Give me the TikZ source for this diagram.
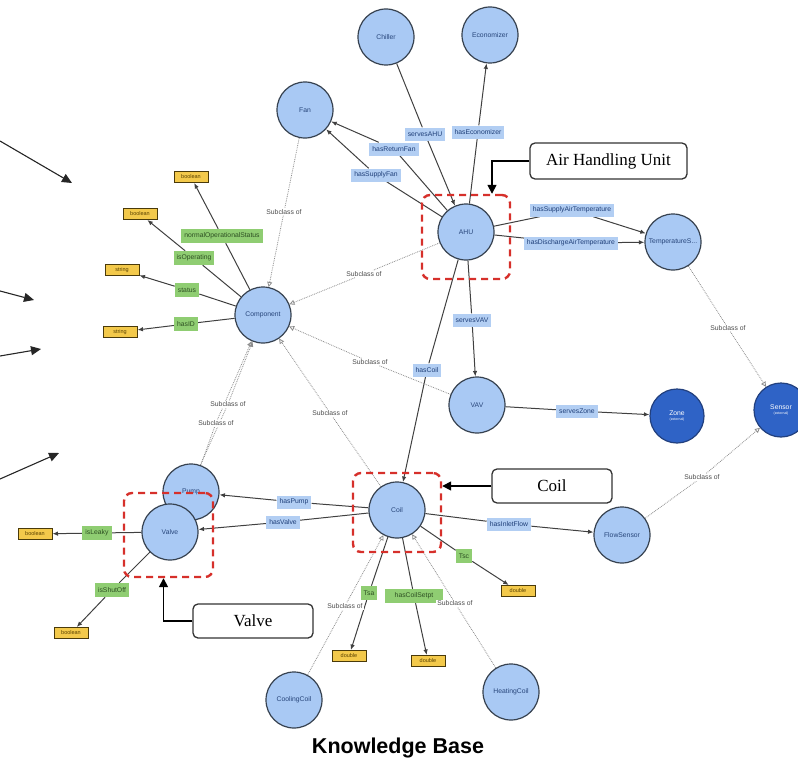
\documentclass[tikz,border=0pt]{standalone}
\usepackage{fontspec}
\setmainfont{Liberation Sans}
\newfontfamily\calloutfont{Liberation Serif}
\usetikzlibrary{arrows.meta,calc,backgrounds}

\definecolor{classfill}{HTML}{A9C9F4}
\definecolor{circborder}{HTML}{36414F}
\definecolor{classtext}{HTML}{27457A}
\definecolor{extfill}{HTML}{2F63C6}
\definecolor{extborder}{HTML}{22407E}
\definecolor{propblue}{HTML}{B2CEF3}
\definecolor{proptext}{HTML}{1E3E78}
\definecolor{propgreen}{HTML}{8FCD72}
\definecolor{greentext}{HTML}{2D4F22}
\definecolor{litfill}{HTML}{F3C94B}
\definecolor{litborder}{HTML}{4A3A0A}
\definecolor{littext}{HTML}{5A4200}
\definecolor{focusred}{HTML}{D6302B}

\begin{document}
\begin{tikzpicture}[x=1pt,y=-1pt,
  every node/.style={font=\fontsize{6.8}{7.8}\selectfont, inner sep=1.5pt},
  cls/.style={circle, draw=circborder, line width=1.2pt, fill=classfill,
    minimum size=56pt, text=classtext, inner sep=0pt},
  ext/.style={cls, fill=extfill, draw=extborder, text=white, align=center, minimum size=54pt},
  objprop/.style={fill=propblue, text=proptext, minimum height=13pt, inner xsep=3pt},
  dataprop/.style={fill=propgreen, text=greentext, minimum height=14pt, inner xsep=3pt},
  literal/.style={draw=litborder, line width=1pt, fill=litfill, text=littext,
    minimum width=34pt, minimum height=11pt, inner sep=0.5pt, font=\fontsize{5.5}{6}\selectfont},
  sublbl/.style={fill=white, text=black!70, inner sep=1pt},
  rel/.style={draw=black!75, line width=1pt, -{Latex[length=5.5pt,width=4.5pt]}},
  subcl/.style={draw=black!45, line width=0.8pt, densely dotted,
    -{Triangle[open,length=5pt,width=5pt]}},
  focus/.style={draw=focusred, line width=2.4pt, dash pattern=on 7pt off 5pt,
    rounded corners=8pt, inner sep=0pt},
  callout/.style={draw=black!80, line width=1.3pt, rounded corners=5pt, fill=white,
    font=\calloutfont\fontsize{17}{19}\selectfont, inner sep=0pt},
  pointer/.style={draw=black, line width=1.6pt, -{Triangle[length=9pt,width=9pt]}},
  feed/.style={draw=black!85, line width=1.1pt, -{Triangle[length=10pt,width=9pt]}},
]
\useasboundingbox (0,0) rectangle (798,776);

% ---- classes ----
\node[cls] (chiller) at (386,37) {Chiller};
\node[cls] (econ) at (490,35) {Economizer};
\node[cls] (fan) at (305,110) {Fan};
\node[cls] (ahu) at (466,232) {AHU};
\node[cls] (temp) at (673,242) {TemperatureS...};
\node[cls] (comp) at (263,315) {Component};
\node[cls] (vav) at (477,405) {VAV};
\node[ext] (zone) at (677,416) {Zone\\[-2pt]{\fontsize{3.5}{4}\selectfont (external)}};
\node[ext] (sensor) at (781,410) {Sensor\\[-2pt]{\fontsize{3.5}{4}\selectfont (external)}};
\node[cls] (coil) at (397,510) {Coil};
\node[cls] (flow) at (622,535) {FlowSensor};
\node[cls] (pump) at (191,492) {Pump};
\node[cls] (valve) at (170,532) {Valve};
\node[cls] (cool) at (294,700) {CoolingCoil};
\node[cls] (heat) at (511,692) {HeatingCoil};

% ---- object property labels ----
\node[objprop] (lServesAHU) at (425,134) {servesAHU};
\node[objprop] (lEcon) at (478,132) {hasEconomizer};
\node[objprop] (lRetFan) at (394,149) {hasReturnFan};
\node[objprop] (lSupFan) at (376,175) {hasSupplyFan};
\node[objprop] (lSAT) at (572,210) {hasSupplyAirTemperature};
\node[objprop] (lDAT) at (571,243) {hasDischargeAirTemperature};
\node[objprop] (lServesVAV) at (472,320) {servesVAV};
\node[objprop] (lHasCoil) at (427,370) {hasCoil};
\node[objprop] (lServesZone) at (577,411) {servesZone};
\node[objprop] (lHasPump) at (294,502) {hasPump};
\node[objprop] (lHasValve) at (283,522) {hasValve};
\node[objprop] (lInlet) at (509,524) {hasInletFlow};

% ---- data property labels ----
\node[dataprop] (lNOS) at (222,236) {normalOperationalStatus};
\node[dataprop] (lIsOp) at (194,258) {isOperating};
\node[dataprop] (lStatus) at (187,290) {status};
\node[dataprop] (lID) at (186,324) {hasID};
\node[dataprop] (lLeaky) at (97,533) {isLeaky};
\node[dataprop] (lShut) at (112,590) {isShutOff};
\node[dataprop] (lTsc) at (464,556) {Tsc};
\node[dataprop] (lTsa) at (369,593) {Tsa};
\node[dataprop, minimum width=58pt] (lSetpt) at (414,596) {hasCoilSetpt};

% ---- literals ----
\node[literal] (bNOS) at (191,177) {boolean};
\node[literal] (bIsOp) at (140,214) {boolean};
\node[literal] (sStatus) at (122,270) {string};
\node[literal] (sID) at (120,332) {string};
\node[literal] (bLeaky) at (35,534) {boolean};
\node[literal] (bShut) at (71,633) {boolean};
\node[literal] (dTsa) at (349,656) {double};
\node[literal] (dSetpt) at (428,661) {double};
\node[literal] (dTsc) at (518,591) {double};

% ---- subclass labels ----
\node[sublbl] (sFan) at (284,212) {Subclass of};
\node[sublbl] (sAHU) at (364,274) {Subclass of};
\node[sublbl] (sVAV) at (370,362) {Subclass of};
\node[sublbl] (sCoil) at (330,413) {Subclass of};
\node[sublbl] (sValve) at (228,404) {Subclass of};
\node[sublbl] (sPump) at (216,423) {Subclass of};
\node[sublbl] (sCool) at (345,606) {Subclass of};
\node[sublbl] (sHeat) at (455,603) {Subclass of};
\node[sublbl] (sTemp) at (728,328) {Subclass of};
\node[sublbl] (sFlow) at (702,477) {Subclass of};

% ---- connectors, kept behind the nodes ----
\begin{pgfonlayer}{background}
  \draw[rel] (chiller) -- (lServesAHU) -- (ahu);
  \draw[rel] (ahu) -- (lEcon) -- (econ);
  \draw[rel] (ahu) -- (lRetFan) -- (fan);
  \draw[rel] (ahu) -- (lSupFan) -- (fan);
  \draw[rel] (ahu) -- (lSAT) -- (temp);
  \draw[rel] (ahu) -- (lDAT) -- (temp);
  \draw[rel] (ahu) -- (lServesVAV) -- (vav);
  \draw[rel] (ahu) -- (lHasCoil) -- (coil);
  \draw[rel] (vav) -- (lServesZone) -- (zone);
  \draw[rel] (coil) -- (lHasPump) -- (pump);
  \draw[rel] (coil) -- (lHasValve) -- (valve);
  \draw[rel] (coil) -- (lInlet) -- (flow);

  \draw[rel] (comp) -- (lNOS) -- (bNOS);
  \draw[rel] (comp) -- (lIsOp) -- (bIsOp);
  \draw[rel] (comp) -- (lStatus) -- (sStatus);
  \draw[rel] (comp) -- (lID) -- (sID);
  \draw[rel] (valve) -- (lLeaky) -- (bLeaky);
  \draw[rel] (valve) -- (lShut) -- (bShut);
  \draw[rel] (coil) -- (lTsc) -- (dTsc);
  \draw[rel] (coil) -- (lTsa) -- (dTsa);
  \draw[rel] (coil) -- (lSetpt) -- (dSetpt);

  \draw[subcl] (fan) -- (sFan) -- (comp);
  \draw[subcl] (ahu) -- (sAHU) -- (comp);
  \draw[subcl] (vav) -- (sVAV) -- (comp);
  \draw[subcl] (coil) -- (sCoil) -- (comp);
  \draw[subcl] (valve) -- (sValve) -- (comp);
  \draw[subcl] (pump) -- (sPump) -- (comp);
  \draw[subcl] (cool) -- (sCool) -- (coil);
  \draw[subcl] (heat) -- (sHeat) -- (coil);
  \draw[subcl] (temp) -- (sTemp) -- (sensor);
  \draw[subcl] (flow) -- (sFlow) -- (sensor);
\end{pgfonlayer}

% ---- highlighted groups ----
\node[focus, minimum width=88pt, minimum height=84pt] (ahubox) at (466,237) {};
\node[focus, minimum width=88pt, minimum height=79pt] (coilbox) at (397,512.5) {};
\node[focus, minimum width=89pt, minimum height=84pt] (valvebox) at (168.5,535) {};

% ---- callouts ----
\node[callout, minimum width=157pt, minimum height=36pt] (ahucall) at (608.5,161) {Air Handling Unit};
\node[callout, minimum width=120pt, minimum height=34pt] (coilcall) at (552,486) {Coil};
\node[callout, minimum width=120pt, minimum height=34pt] (valvecall) at (253,621) {Valve};

\draw[pointer] (ahucall.west) -| ($(ahubox.north)+(26,0)$);
\draw[pointer] (coilcall.west) -- (coilcall.west -| coilbox.east);
\draw[pointer] (valvecall.west) -| ($(valvebox.south)+(-5,0)$);

% ---- incoming arrows from the left ----
\coordinate (in1s) at (0,141);  \coordinate (in1e) at (72,183);
\coordinate (in2s) at (0,291);  \coordinate (in2e) at (34,300);
\coordinate (in3s) at (0,356);  \coordinate (in3e) at (41,349);
\coordinate (in4s) at (0,479);  \coordinate (in4e) at (59,453);
\draw[feed] (in1s) -- (in1e);
\draw[feed] (in2s) -- (in2e);
\draw[feed] (in3s) -- (in3e);
\draw[feed] (in4s) -- (in4e);

% ---- title ----
\node[font=\bfseries\fontsize{21.5}{24}\selectfont] (title) at (398,748) {Knowledge Base};
\end{tikzpicture}
\end{document}
